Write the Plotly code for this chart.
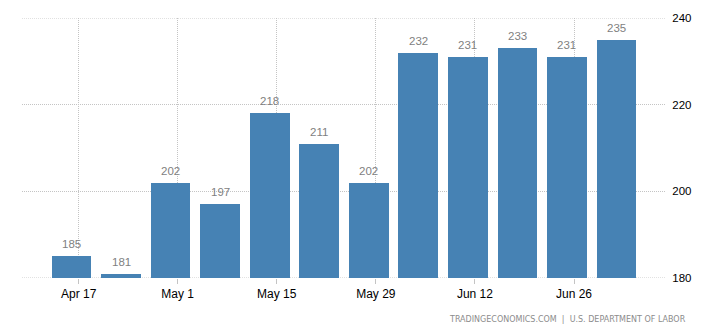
import plotly.graph_objects as go

# Weekly initial jobless claims (thousands), weeks ending on Saturdays
weeks = ["2022-04-16", "2022-04-23", "2022-04-30", "2022-05-07", "2022-05-14",
         "2022-05-21", "2022-05-28", "2022-06-04", "2022-06-11", "2022-06-18",
         "2022-06-25", "2022-07-02"]
claims = [185, 181, 202, 197, 218, 211, 202, 232, 231, 233, 231, 235]

y_ticks = [180, 200, 220, 240]
DAY_MS = 86400000
GRID = "#c4c4c4"
FONT = "Liberation Sans, Arial"

fig = go.Figure(
    go.Bar(
        x=weeks,
        y=claims,
        width=0.8 * 7 * DAY_MS,
        marker=dict(color="#4682B4", line=dict(width=0)),
        hoverinfo="x+y",
    )
)

# value labels above each bar
for w, v in zip(weeks, claims):
    fig.add_annotation(
        x=w, y=v, text=str(v),
        xref="x", yref="y",
        showarrow=False,
        yanchor="bottom", yshift=4,
        font=dict(size=11.5, color="#7f7f7f", family=FONT),
    )

# dotted lines along the top and bottom of the value range
for yv in (y_ticks[0], y_ticks[-1]):
    fig.add_shape(
        type="line", xref="paper", yref="y",
        x0=0, x1=1, y0=yv, y1=yv,
        line=dict(color=GRID, width=1, dash="1px,1px"),
        layer="below",
    )

fig.update_layout(
    width=703,
    height=334,
    margin=dict(l=22, r=35, t=14, b=56),
    paper_bgcolor="white",
    plot_bgcolor="white",
    showlegend=False,
    font=dict(family=FONT, size=12, color="black"),
    xaxis=dict(
        type="date",
        range=["2022-04-09", "2022-07-09"],
        tick0="2022-04-17",
        dtick=14 * DAY_MS,
        tickformat="%b %-d",
        showgrid=True,
        gridcolor=GRID,
        griddash="1px,1px",
        gridwidth=1,
        ticks="outside",
        ticklen=5,
        tickcolor=GRID,
        showline=False,
        zeroline=False,
        tickfont=dict(size=12, color="black"),
    ),
    yaxis=dict(
        side="right",
        range=[180, 240],
        tickvals=y_ticks,
        showgrid=True,
        gridcolor=GRID,
        griddash="1px,1px",
        gridwidth=1,
        zeroline=False,
        showline=False,
        ticks="outside",
        ticklen=3,
        tickcolor="rgba(0,0,0,0)",
        tickfont=dict(size=11.5, color="black"),
    ),
    bargap=0,
)

fig.add_annotation(
    text="TRADINGECONOMICS.COM  |  U.S. DEPARTMENT OF LABOR",
    xref="paper", yref="paper",
    x=1.034, y=-0.159,
    xanchor="right", yanchor="middle",
    showarrow=False,
    font=dict(size=8, color="#8c8c8c", family="DejaVu Sans, Verdana"),
)

fig.write_html("out.html")
